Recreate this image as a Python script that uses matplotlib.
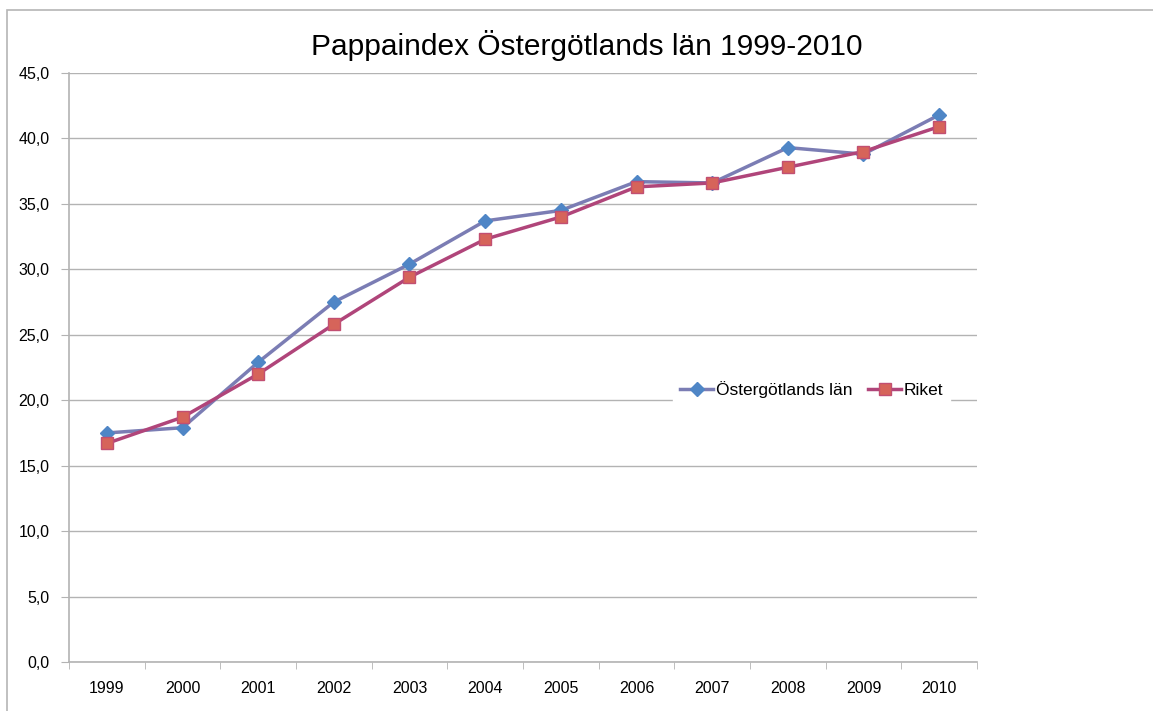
import matplotlib.pyplot as plt
from matplotlib.patches import Rectangle
from matplotlib.ticker import FixedLocator, FuncFormatter

plt.rcParams['font.family'] = ['Liberation Sans', 'DejaVu Sans']

years = ['1999', '2000', '2001', '2002', '2003', '2004',
         '2005', '2006', '2007', '2008', '2009', '2010']
ostergotland = [17.5, 17.9, 22.9, 27.5, 30.4, 33.7, 34.5, 36.7, 36.6, 39.3, 38.8, 41.8]
riket = [16.7, 18.7, 22.0, 25.8, 29.4, 32.3, 34.0, 36.3, 36.6, 37.8, 39.0, 40.9]

fig = plt.figure(figsize=(11.53, 7.11), dpi=100)
# ram runt diagrammet
fig.patches.append(Rectangle((7 / 1153, -0.1), 1.2, 1 - 10 / 711 + 0.1,
                             transform=fig.transFigure, fill=False,
                             edgecolor='#b5b5b5', linewidth=1.2))

ax = fig.add_axes([69 / 1153, 49 / 711, 908 / 1153, 589 / 711])
x = list(range(len(years)))

ax.plot(x, ostergotland, color='#7b7db4', linewidth=2.5, marker='D',
        markersize=7, markerfacecolor='#4f86c6', markeredgecolor='#4f86c6',
        label='Östergötlands län', zorder=3)
ax.plot(x, riket, color='#b0457a', linewidth=2.5, marker='s',
        markersize=9, markerfacecolor='#d6645a', markeredgecolor='#c24f72',
        label='Riket', zorder=4)

ax.set_xlim(-0.5, len(years) - 0.5)
ax.set_ylim(0, 45)
ax.set_yticks([i * 5 for i in range(10)])
ax.yaxis.set_major_formatter(FuncFormatter(lambda v, p: f'{v:.1f}'.replace('.', ',')))
ax.set_xticks(x)
ax.set_xticklabels(years)
ax.xaxis.set_minor_locator(FixedLocator([i - 0.5 for i in range(len(years) + 1)]))

ax.grid(axis='y', color='#b3b3b3', linewidth=1)
ax.set_axisbelow(True)
for s in ['top', 'right']:
    ax.spines[s].set_visible(False)
for s in ['left', 'bottom']:
    ax.spines[s].set_color('#b3b3b3')
    ax.spines[s].set_linewidth(1.2)

ax.tick_params(axis='y', length=6, color='#b3b3b3', labelsize=11.5, pad=8)
ax.tick_params(axis='x', which='major', length=0, labelsize=11.5, pad=14)
ax.tick_params(axis='x', which='minor', length=5, color='#b3b3b3')

leg = ax.legend(loc='center', bbox_to_anchor=(0.818, 0.462), ncol=2,
                frameon=True, fancybox=False, framealpha=1, edgecolor='white',
                fontsize=12.5, handlelength=1.9, columnspacing=0.9,
                handletextpad=0.15, borderpad=0.4)

fig.text(0.509, 0.936, 'Pappaindex Östergötlands län 1999-2010',
         ha='center', va='center', fontsize=21.5)

fig.savefig('out.png', dpi=100)
